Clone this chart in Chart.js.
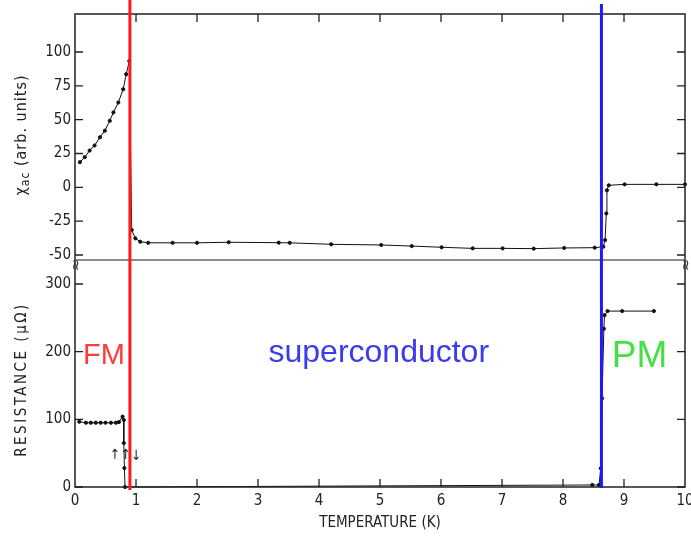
<!DOCTYPE html>
<html>
<head>
<meta charset="utf-8">
<script src="https://cdn.jsdelivr.net/npm/chart.js@4.4.0/dist/chart.umd.min.js"></script>
<style>
  html, body { margin: 0; padding: 0; background: #fff; }
</style>
</head>
<body>
<canvas id="chart" width="691" height="536"></canvas>
<script>
// susceptibility (top panel)
const chiTemps = [0.08, 0.16, 0.24, 0.32, 0.41, 0.49, 0.57, 0.63, 0.71, 0.79, 0.84, 0.89,
  0.93, 0.99, 1.07, 1.2, 1.6, 2.0, 2.52, 3.34, 3.52, 4.2, 5.02, 5.52, 6.01, 6.52, 7.01,
  7.52, 8.02, 8.52, 8.66, 8.69, 8.71, 8.72, 8.75, 9.01, 9.53, 10.0];
const chiValues = [18.6, 22.3, 27.2, 30.9, 37.0, 41.9, 49.2, 55.4, 62.7, 72.5, 83.6, 93.3,
  -31.6, -37.7, -40.2, -41.0, -41.0, -41.0, -40.6, -40.9, -41.0, -42.1, -42.6, -43.4, -44.3,
  -45.1, -45.1, -45.3, -44.8, -44.6, -43.9, -39.0, -19.3, -2.2, 1.5, 2.2, 2.2, 2.2];

// resistance (bottom panel)
const resTemps = [0.07, 0.18, 0.26, 0.34, 0.42, 0.5, 0.59, 0.67, 0.72, 0.78, 0.8, 0.8, 0.81,
  0.82, 8.48, 8.59, 8.62, 8.64, 8.67, 8.68, 8.73, 8.97, 9.49];
const resValues = [96.5, 95, 95, 95, 95, 95, 95, 95, 96, 104, 99, 65, 28,
  0, 3, 3, 27.6, 131, 234, 254, 260, 260, 260];

const chiTicks = [-50, -25, 0, 25, 50, 75, 100];
const resTicks = [0, 50, 100, 150, 200, 250, 300];
const tempTicks = [0, 1, 2, 3, 4, 5, 6, 7, 8, 9, 10];

const transitionTemps = [0.9, 8.63];
const phaseLabels = ["FM", "superconductor", "PM"];

const condensed = "'DejaVu Sans Condensed', 'Liberation Sans Narrow', sans-serif";
const tickFont = { family: condensed, size: 15 };
const titleFont = { family: condensed, size: 15 };

const toPoints = (xs, ys) => xs.map((t, i) => ({ x: t, y: ys[i] }));

const framePlugin = {
  id: "frame",
  afterDraw(chart) {
    const { ctx, chartArea: a, scales } = chart;
    const x = scales.x, yt = scales.yChi, yb = scales.yRes;
    ctx.save();

    // box + panel separator
    ctx.strokeStyle = "#222";
    ctx.lineWidth = 1.5;
    ctx.strokeRect(a.left, a.top, a.right - a.left, a.bottom - a.top);
    ctx.strokeStyle = "#666";
    ctx.beginPath();
    ctx.moveTo(a.left, yt.bottom);
    ctx.lineTo(a.right, yt.bottom);
    ctx.stroke();

    // inward ticks
    ctx.strokeStyle = "#222";
    ctx.lineWidth = 1.3;
    const len = 8;
    ctx.beginPath();
    [yt, yb].forEach(s => {
      s.ticks.forEach(t => {
        const py = s.getPixelForValue(t.value);
        ctx.moveTo(a.left, py); ctx.lineTo(a.left + len, py);
        ctx.moveTo(a.right, py); ctx.lineTo(a.right - len, py);
      });
    });
    x.ticks.forEach(t => {
      if (t.value <= 0 || t.value >= 10) return;
      const px = x.getPixelForValue(t.value);
      ctx.moveTo(px, a.bottom); ctx.lineTo(px, a.bottom - len);
      ctx.moveTo(px, a.top); ctx.lineTo(px, a.top + len);
    });
    ctx.stroke();

    // axis breaks
    ctx.fillStyle = "#333";
    ctx.font = "15px 'DejaVu Sans'";
    ctx.textAlign = "center";
    ctx.textBaseline = "middle";
    [a.left, a.right].forEach(px => {
      ctx.save();
      ctx.translate(px, yt.bottom + 5);
      ctx.rotate(Math.PI / 2);
      ctx.fillText("≈", 0, 0);
      ctx.restore();
    });

    // y axis titles
    ctx.fillStyle = "#222";
    ctx.save();
    ctx.translate(22, (yt.top + yt.bottom) / 2 - 2);
    ctx.rotate(-Math.PI / 2);
    ctx.font = "16px " + condensed;
    ctx.letterSpacing = "1px";
    const mainW = ctx.measureText("χ").width;
    ctx.font = "12px " + condensed;
    const subW = ctx.measureText("ac").width;
    ctx.font = "16px " + condensed;
    const restW = ctx.measureText(" (arb. units)").width;
    let tx = -(mainW + subW + restW) / 2;
    ctx.textAlign = "left";
    ctx.fillText("χ", tx, 0);
    ctx.font = "12px " + condensed;
    ctx.fillText("ac", tx + mainW, 4);
    ctx.font = "16px " + condensed;
    ctx.fillText(" (arb. units)", tx + mainW + subW, 0);
    ctx.restore();

    ctx.save();
    ctx.translate(22, (yb.top + yb.bottom) / 2 + 6);
    ctx.rotate(-Math.PI / 2);
    ctx.font = "15px " + condensed;
    ctx.letterSpacing = "2.5px";
    ctx.textAlign = "center";
    ctx.fillText("RESISTANCE (μΩ)", 0, 0);
    ctx.restore();

    // hysteresis arrows
    ctx.font = "14px 'DejaVu Sans Condensed', 'DejaVu Sans'";
    ctx.textAlign = "center";
    ctx.fillStyle = "#222";
    ctx.fillText("↑↑", x.getPixelForValue(0.74), yb.getPixelForValue(47));
    ctx.fillText("↓", x.getPixelForValue(1.0), yb.getPixelForValue(45));

    // transition lines
    ctx.lineWidth = 3;
    ctx.strokeStyle = "#ff1a1a";
    let px = x.getPixelForValue(transitionTemps[0]);
    ctx.beginPath(); ctx.moveTo(px, 0); ctx.lineTo(px, a.bottom + 3); ctx.stroke();
    ctx.strokeStyle = "#1a1aff";
    px = x.getPixelForValue(transitionTemps[1]);
    ctx.beginPath(); ctx.moveTo(px, 4); ctx.lineTo(px, a.bottom + 1); ctx.stroke();

    // phase labels
    ctx.textBaseline = "middle";
    ctx.textAlign = "left";
    ctx.font = "29px 'Liberation Sans', Arial, sans-serif";
    ctx.fillStyle = "#ff3b3b";
    ctx.fillText(phaseLabels[0], x.getPixelForValue(0.13), yb.getPixelForValue(193));
    ctx.textAlign = "center";
    ctx.font = "32px 'Liberation Sans', Arial, sans-serif";
    ctx.fillStyle = "#3a3aee";
    ctx.fillText(phaseLabels[1], x.getPixelForValue(4.98), yb.getPixelForValue(198));
    ctx.textAlign = "left";
    ctx.font = "37px 'Liberation Sans', Arial, sans-serif";
    ctx.fillStyle = "#44e044";
    ctx.fillText(phaseLabels[2], x.getPixelForValue(8.8), yb.getPixelForValue(193));

    ctx.restore();
  }
};

const lineStyle = {
  borderColor: "#111",
  backgroundColor: "#111",
  borderWidth: 1,
  pointRadius: 1.6,
  pointHoverRadius: 1.6,
  tension: 0,
  clip: false
};

new Chart(document.getElementById("chart"), {
  type: "line",
  data: {
    datasets: [
      Object.assign({ label: "chi_ac", data: toPoints(chiTemps, chiValues), yAxisID: "yChi" }, lineStyle),
      Object.assign({ label: "resistance", data: toPoints(resTemps, resValues), yAxisID: "yRes" }, lineStyle)
    ]
  },
  options: {
    responsive: false,
    animation: false,
    layout: { padding: { top: 14, left: 10, right: 6, bottom: 0 } },
    plugins: { legend: { display: false }, tooltip: { enabled: false } },
    scales: {
      x: {
        type: "linear",
        min: 0,
        max: 10,
        afterBuildTicks: s => { s.ticks = tempTicks.map(v => ({ value: v })); },
        afterFit: s => { s.height = 49; s.paddingLeft = 0; s.paddingRight = 0; },
        grid: { drawOnChartArea: false, drawTicks: false },
        border: { display: false },
        ticks: { font: tickFont, color: "#222", padding: 5, maxRotation: 0 },
        title: { display: true, text: "TEMPERATURE (K)", font: titleFont, color: "#222" }
      },
      yRes: {
        type: "linear",
        position: "left",
        stack: "panels",
        stackWeight: 227,
        min: 0,
        max: 335.5,
        afterBuildTicks: s => { s.ticks = resTicks.map(v => ({ value: v })); },
        afterFit: s => { s.width = 65; s.paddingTop = 0; s.paddingBottom = 0; },
        grid: { drawOnChartArea: false, drawTicks: false },
        border: { display: false },
        ticks: { font: tickFont, color: "#222", padding: 4 }
      },
      yChi: {
        type: "linear",
        position: "left",
        stack: "panels",
        stackWeight: 246,
        min: -53.7,
        max: 128.1,
        afterBuildTicks: s => { s.ticks = chiTicks.map(v => ({ value: v })); },
        afterFit: s => { s.width = 65; s.paddingTop = 0; s.paddingBottom = 0; },
        grid: { drawOnChartArea: false, drawTicks: false },
        border: { display: false },
        ticks: { font: tickFont, color: "#222", padding: 4 }
      }
    }
  },
  plugins: [framePlugin]
});
</script>
</body>
</html>
